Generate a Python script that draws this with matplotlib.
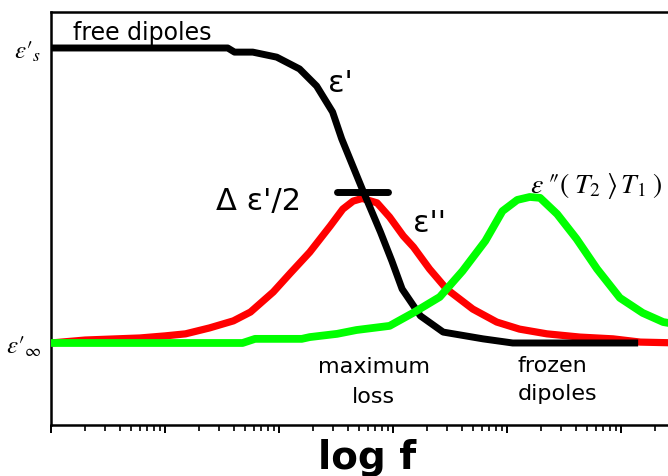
import numpy as np
import matplotlib
matplotlib.use("Agg")
import matplotlib.pyplot as plt
from matplotlib.ticker import LogLocator, NullFormatter, NullLocator

plt.rcParams['mathtext.fontset'] = 'stix'
plt.rcParams['font.family'] = ['DejaVu Sans']

# Real permittivity eps' (normalised: 0 = eps_inf, 1 = eps_s) vs log10 f
eps_real_logf = [0.00, 1.55, 1.61, 1.77, 1.98, 2.18, 2.33, 2.47, 2.55, 2.64,
                 2.73, 2.89, 2.99, 3.08, 3.24, 3.44, 3.79, 4.05, 5.12]
eps_real = [1.000, 1.000, 0.986, 0.986, 0.969, 0.929, 0.871, 0.783, 0.692, 0.607,
            0.522, 0.376, 0.278, 0.183, 0.092, 0.037, 0.014, 0.000, 0.000]

# Loss factor eps'' at T1
eps_loss_logf = [0.00, 0.30, 0.78, 1.00, 1.18, 1.39, 1.60, 1.75, 1.95, 2.10,
                 2.27, 2.45, 2.56, 2.65, 2.73, 2.86, 2.97, 3.09, 3.18, 3.32,
                 3.47, 3.70, 3.91, 4.11, 4.35, 4.64, 4.93, 5.17, 5.52]
eps_loss = [0.000, 0.010, 0.017, 0.024, 0.031, 0.051, 0.075, 0.105, 0.173, 0.237,
            0.308, 0.397, 0.454, 0.481, 0.490, 0.475, 0.427, 0.363, 0.325, 0.251,
            0.183, 0.115, 0.071, 0.047, 0.031, 0.020, 0.014, 0.003, 0.000]

# Loss factor eps'' at the higher temperature T2
eps_loss_t2_logf = [0.00, 1.68, 1.79, 2.20, 2.27, 2.51, 2.68, 2.97, 3.19, 3.41,
                    3.61, 3.81, 3.96, 4.09, 4.20, 4.29, 4.44, 4.61, 4.79, 4.99,
                    5.19, 5.37, 5.52]
eps_loss_t2 = [0.000, 0.000, 0.014, 0.014, 0.020, 0.031, 0.044, 0.058, 0.105, 0.156,
               0.244, 0.346, 0.447, 0.485, 0.495, 0.492, 0.437, 0.353, 0.251, 0.153,
               0.102, 0.071, 0.061]

# Half-step marker at the loss maximum
half_step_logf = [2.51, 2.96]
half_step_level = [0.512, 0.512]

level_values = [0.0, 1.0]
level_labels = [r"$\varepsilon′_{\infty}$", r"$\varepsilon′_{s}$"]


def freq(logf):
    return 10.0 ** np.asarray(logf, dtype=float)


fig = plt.figure(figsize=(6.68, 4.77), dpi=100)
ax = fig.add_axes([51 / 668, 51 / 477, 684 / 668, 413 / 477])
ax.set_xscale('log')
ax.set_xlim(1, 1e6)
ax.set_ylim(-0.278, 1.122)

ax.plot(freq(eps_loss_logf), eps_loss, color='#ff0000', lw=5.2,
        solid_joinstyle='round', zorder=2)
ax.plot(freq(eps_real_logf), eps_real, color='black', lw=5,
        solid_joinstyle='round', zorder=3)
ax.plot(freq(eps_loss_t2_logf), eps_loss_t2, color='#00ff00', lw=5.6,
        solid_joinstyle='round', zorder=4)
ax.plot(freq(half_step_logf), half_step_level, color='black', lw=5,
        solid_capstyle='round', zorder=5)

# axes styling
for sp in ax.spines.values():
    sp.set_linewidth(1.8)
ax.xaxis.set_major_locator(LogLocator(base=10, numticks=20))
ax.xaxis.set_minor_locator(LogLocator(base=10, subs=np.arange(2, 10), numticks=100))
ax.xaxis.set_major_formatter(NullFormatter())
ax.xaxis.set_minor_formatter(NullFormatter())
ax.tick_params(axis='x', which='major', direction='out', length=6, width=1.4,
               top=False)
ax.tick_params(axis='x', which='minor', direction='out', length=4, width=1.2,
               top=False)

ax.set_yticks(level_values)
ax.set_yticklabels(level_labels, fontsize=18)
ax.yaxis.set_minor_locator(NullLocator())
ax.tick_params(axis='y', length=0, pad=7)

ax.set_xlabel('log f', fontsize=28, fontweight='bold')
ax.xaxis.set_label_coords(0.462, -0.104)
ax.xaxis.label.set_va('baseline')

# annotations
txt = dict(va='baseline', ha='left')
ax.text(freq(0.19), 1.031, 'free dipoles', fontsize=17, **txt)
ax.text(freq(2.43), 0.854, "ε'", fontsize=22, **txt)
ax.text(freq(1.45), 0.454, "Δ ε'/2", fontsize=22, **txt)
ax.text(freq(3.175), 0.380, "ε''", fontsize=22, **txt)
ax.text(freq(4.20), 0.512,
        r"$\varepsilon\;″(\;T_{2}\;\rangle\, T_{1}\;)$",
        fontsize=20, **txt)
ax.text(freq(2.83), -0.098, 'maximum', fontsize=16, ha='center', va='baseline')
ax.text(freq(2.83), -0.200, 'loss', fontsize=16, ha='center', va='baseline')
ax.text(freq(4.09), -0.095, 'frozen', fontsize=16, **txt)
ax.text(freq(4.09), -0.190, 'dipoles', fontsize=16, **txt)

fig.savefig('out.png', dpi=100)
